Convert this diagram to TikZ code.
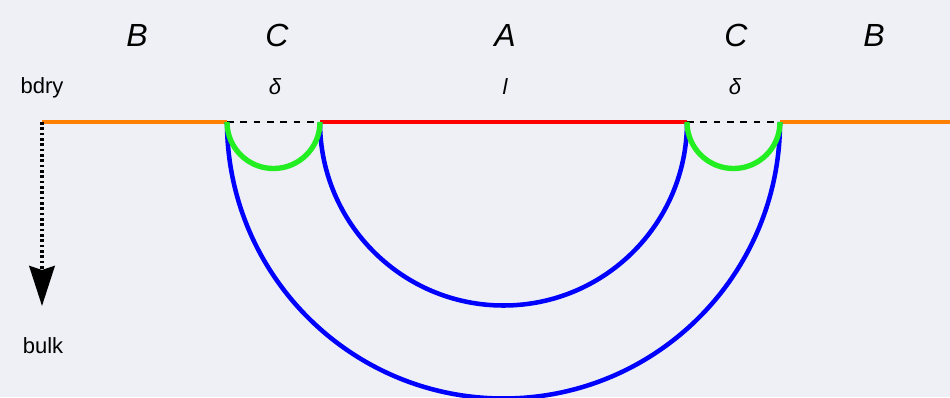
\documentclass[tikz,border=0pt]{standalone}
\usepackage{fontspec}
\setmainfont{Liberation Sans}
\usetikzlibrary{arrows.meta}
\definecolor{slidebg}{RGB}{239,240,245}
\definecolor{bdryorange}{RGB}{255,128,0}
\definecolor{regionred}{RGB}{255,0,0}
\definecolor{capgreen}{RGB}{34,238,34}
\definecolor{geoblue}{RGB}{0,0,255}
\newcommand{\geoarc}[4]{%
  % half circle hanging below the boundary, from #1 to #2
  \draw[#3] (#1) arc[start angle=180,end angle=0,x radius=#4,y radius=#4];
}

\begin{document}
\begin{tikzpicture}[x=0.75pt,y=-0.75pt,
    region/.style={font=\itshape\fontsize{24}{28}\selectfont},
    small/.style={font=\fontsize{16.5}{19}\selectfont},
    smallit/.style={font=\itshape\fontsize{16.5}{19}\selectfont}]
    \fill[slidebg] (0,0) rectangle (950,397);
    \useasboundingbox (0,0) rectangle (950,397);
    % boundary points
    \coordinate (o) at (42,122);
    \coordinate (c1) at (227,122);
    \coordinate (a1) at (320,122);
    \coordinate (a2) at (687,122);
    \coordinate (c2) at (780,122);
    \coordinate (e) at (950,122);
    \coordinate (down) at (42,306);
    % labels
    \node[region] (bl) at (137,35) {B};
    \node[region] (cl) at (277,35) {C};
    \node[region] (am) at (505,35) {A};
    \node[region] (cr) at (736,35) {C};
    \node[region] (br) at (874,35) {B};
    \node[smallit] (dl) at (275,87) {δ};
    \node[smallit] (lm) at (505,87) {l};
    \node[smallit] (dr) at (735,87) {δ};
    \node[small] (bd) at (42,88) {bdry};
    \node[small] (bk) at (43,346) {bulk};
    % the boundary line
    \draw[bdryorange,line width=3.4pt] (o) -- (c1);
    \draw[bdryorange,line width=3.4pt] (c2) -- (e);
    \draw[regionred,line width=3.4pt] (a1) -- (a2);
    \draw[black,line width=0.8pt,dash pattern=on 5pt off 5pt] (c1) -- (a1);
    \draw[black,line width=0.8pt,dash pattern=on 5pt off 5pt] (a2) -- (c2);
    % geodesics
    \geoarc{a1}{a2}{geoblue,line width=3.4pt}{183.5}
    \geoarc{c1}{c2}{geoblue,line width=3.4pt}{276.5}
    \geoarc{c1}{a1}{capgreen,line width=4pt}{46.5}
    \geoarc{a2}{c2}{capgreen,line width=4pt}{46.5}
    % radial direction
    \draw[line width=3pt,dash pattern=on 2pt off 2pt,
      -{Stealth[length=30pt,width=19pt,inset=3pt]}] (o) -- (down);
  \end{tikzpicture}
\end{document}
